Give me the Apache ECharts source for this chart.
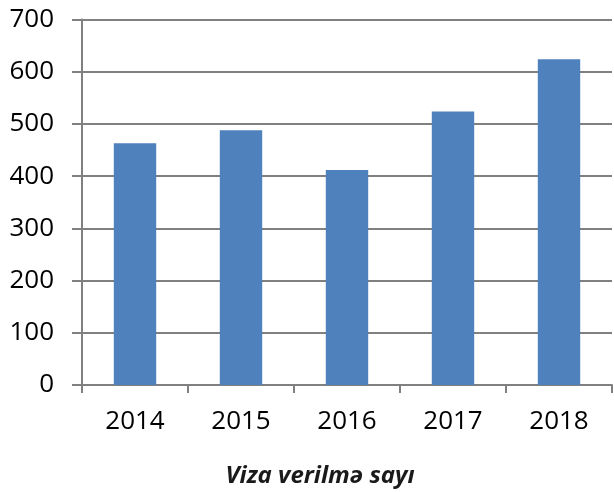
<!DOCTYPE html>
<html>
<head>
<meta charset="utf-8">
<script src="https://cdn.jsdelivr.net/npm/echarts@6/dist/echarts.min.js"></script>
<style>html,body{margin:0;padding:0;background:#fff;}#c{width:614px;height:492px;}</style>
</head>
<body>
<div id="c"></div>
<script>
var categories = ['2014', '2015', '2016', '2017', '2018'];
var values = [463, 488, 412, 524, 624];
var yTicks = { min: 0, max: 700, interval: 100 };
var titleText = 'Viza verilmə sayı';

var chart = echarts.init(document.getElementById('c'), null, { renderer: 'canvas' });
var FONT = '"Open Sans", sans-serif';
chart.setOption({
  animation: false,
  backgroundColor: '#ffffff',
  title: {
    text: titleText,
    left: 315,
    top: 459,
    textAlign: 'center',
    textStyle: { fontFamily: FONT, fontSize: 24, fontWeight: 'bold', fontStyle: 'italic', color: '#1a1a1a' }
  },
  grid: { left: 82, right: 2, top: 19.5, bottom: 107, containLabel: false },
  xAxis: {
    type: 'category',
    data: categories,
    boundaryGap: true,
    axisLine: { show: true, lineStyle: { color: '#808080', width: 2 } },
    axisTick: { show: true, alignWithLabel: false, length: 8, inside: false, lineStyle: { color: '#808080', width: 2 } },
    axisLabel: { margin: 24, fontFamily: FONT, fontSize: 26, color: '#000' }
  },
  yAxis: {
    type: 'value',
    min: yTicks.min,
    max: yTicks.max,
    interval: yTicks.interval,
    axisLine: { show: true, lineStyle: { color: '#808080', width: 2 } },
    axisTick: { show: true, length: 10, lineStyle: { color: '#808080', width: 2 } },
    splitLine: { show: true, lineStyle: { color: '#808080', width: 2 } },
    axisLabel: { margin: 28, fontFamily: FONT, fontSize: 26, color: '#000' }
  },
  series: [{
    type: 'bar',
    data: values,
    barWidth: '40%',
    itemStyle: { color: '#4F81BD' }
  }]
});
</script>
</body>
</html>
